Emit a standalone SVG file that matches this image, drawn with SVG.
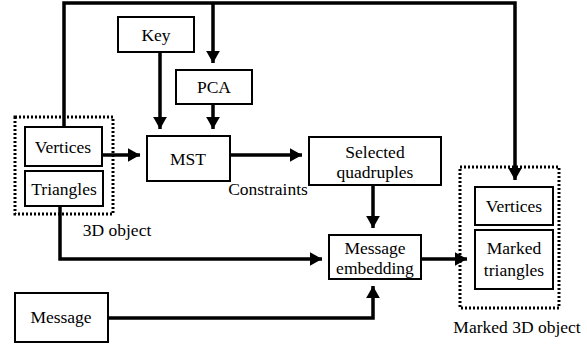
<svg xmlns="http://www.w3.org/2000/svg" width="587" height="347" viewBox="0 0 587 347">
<style>
.box{fill:#fff;stroke:#000;stroke-width:2}
.dot{fill:none;stroke:#000;stroke-width:3;stroke-dasharray:2 2}
.ln{fill:none;stroke:#000;stroke-width:3.5}
.t{font-family:'Liberation Serif','Times New Roman',serif;font-size:17.5px;fill:#000;text-anchor:middle}
</style>
<defs>
<marker id="ah" markerWidth="4" markerHeight="4" refX="3.5" refY="2" orient="auto" markerUnits="strokeWidth">
<path d="M0,0 L3.5,2 L0,4 Z" fill="#000"/>
</marker>
</defs>
<rect x="0" y="0" width="587" height="347" fill="#fff"/>
<g id="obj3d">
<rect class="dot" x="15" y="117" width="98" height="97"/>
<text class="t" x="117" y="236">3D object</text>
</g>
<g id="marked3d">
<rect class="dot" x="460" y="167" width="99" height="141"/>
<text class="t" x="517" y="333">Marked 3D object</text>
</g>
<g id="connectors">
<path class="ln" d="M64,127 V3 H515 V180" marker-end="url(#ah)"/>
<path class="ln" d="M213,3 V63" marker-end="url(#ah)"/>
<path class="ln" d="M160,52 V129" marker-end="url(#ah)"/>
<path class="ln" d="M213,104 V129" marker-end="url(#ah)"/>
<path class="ln" d="M102,155 H140" marker-end="url(#ah)"/>
<path class="ln" d="M230,155 H302" marker-end="url(#ah)"/>
<path class="ln" d="M373,185 V228" marker-end="url(#ah)"/>
<path class="ln" d="M60,206 V259 H322" marker-end="url(#ah)"/>
<path class="ln" d="M108,318 H373 V286" marker-end="url(#ah)"/>
<path class="ln" d="M421,259 H467" marker-end="url(#ah)"/>
</g>
<g id="key"><rect class="box" x="118" y="17" width="76" height="35"/><text class="t" x="156" y="41">Key</text></g>
<g id="pca"><rect class="box" x="176" y="70" width="76" height="34"/><text class="t" x="214" y="93">PCA</text></g>
<g id="mst"><rect class="box" x="147" y="136" width="83" height="45"/><text class="t" x="188" y="165">MST</text></g>
<g id="vertices"><rect class="box" x="25" y="127" width="77" height="39"/><text class="t" x="63" y="153">Vertices</text></g>
<g id="triangles"><rect class="box" x="25" y="171" width="78" height="35"/><text class="t" x="64" y="195">Triangles</text></g>
<g id="selected"><rect class="box" x="309" y="137" width="132" height="48"/><text class="t" x="375" y="158">Selected</text><text class="t" x="375" y="178">quadruples</text></g>
<g id="constraints"><text class="t" x="268" y="195">Constraints</text></g>
<g id="embedding"><rect class="box" x="329" y="235" width="92" height="44"/><text class="t" x="375" y="254">Message</text><text class="t" x="375" y="274">embedding</text></g>
<g id="message"><rect class="box" x="15" y="293" width="93" height="49"/><text class="t" x="61" y="323">Message</text></g>
<g id="vertices2"><rect class="box" x="475" y="187" width="78" height="38"/><text class="t" x="514" y="212">Vertices</text></g>
<g id="markedtri"><rect class="box" x="475" y="230" width="78" height="59"/><text class="t" x="514" y="254">Marked</text><text class="t" x="514" y="276">triangles</text></g>
</svg>
